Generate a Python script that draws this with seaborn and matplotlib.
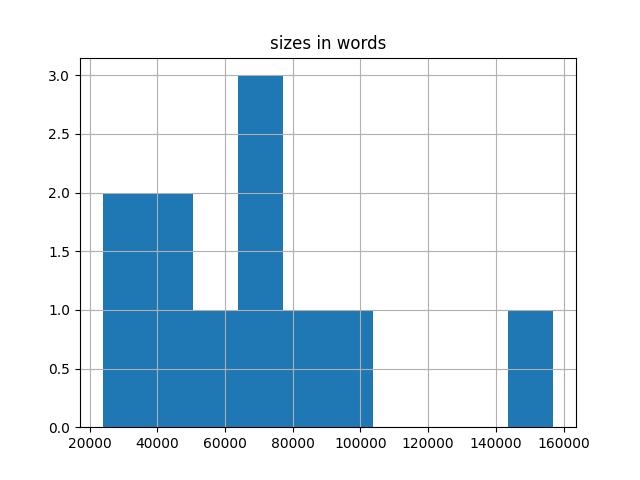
import matplotlib
matplotlib.use("Agg")
import matplotlib.pyplot as plt
import seaborn as sns

# word counts of the texts
titles = ["t1", "t2", "t3", "t4", "t5", "t6", "t7", "t8", "t9", "t10", "t11"]
sizes = [23850, 30000, 40000, 45000, 55000, 66000, 70000, 75000, 85000, 95000, 157000]

fig, ax = plt.subplots(figsize=(6.4, 4.8), dpi=100)
sns.histplot(x=sizes, bins=10, color="#1f77b4", alpha=1, linewidth=0, ax=ax)
ax.grid(True)
ax.set_xlabel("")
ax.set_ylabel("")
ax.set_title("sizes in words")
fig.savefig("out.png")
